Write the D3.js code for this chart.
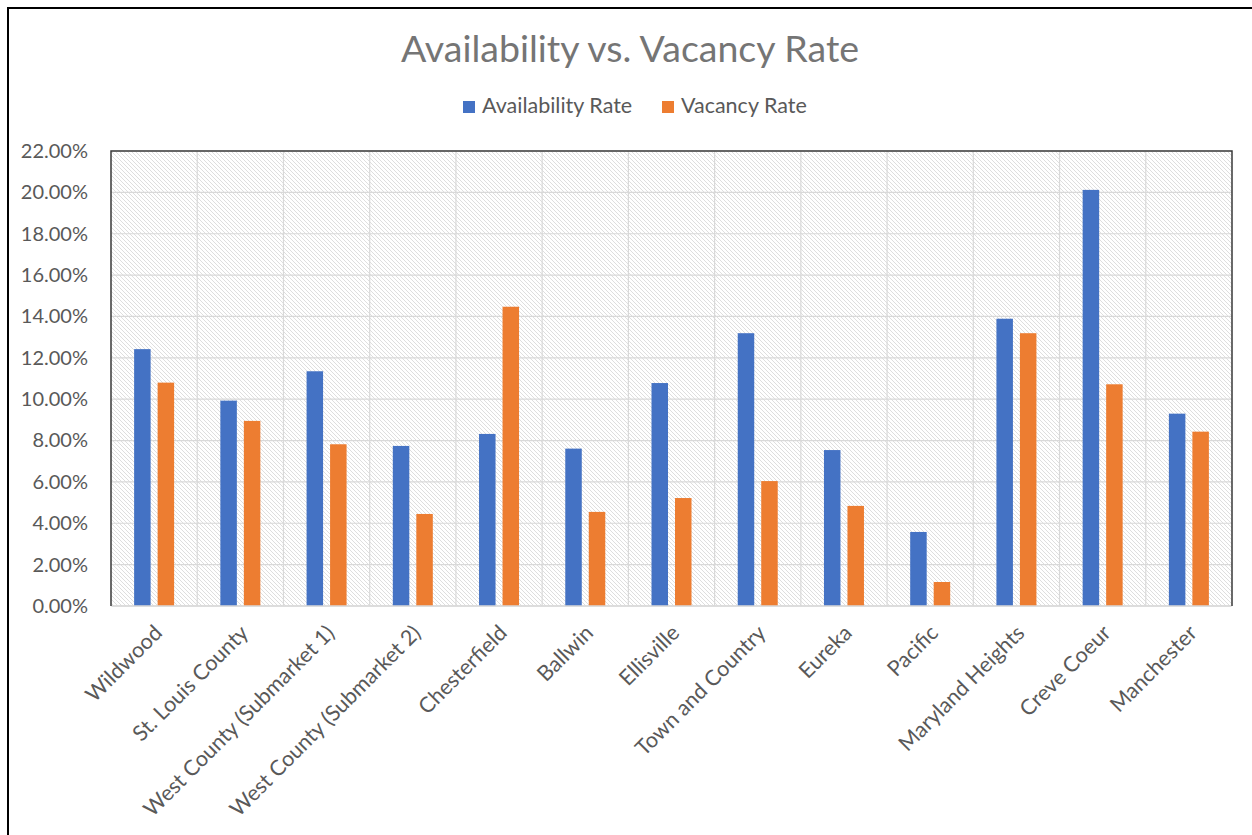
<!DOCTYPE html>
<html>
<head>
<meta charset="utf-8">
<script src="https://cdn.jsdelivr.net/npm/d3@7"></script>
<style>
  html, body { margin: 0; padding: 0; background: #fff; }
  svg { display: block; font-family: Lato, "Open Sans", sans-serif; }
</style>
</head>
<body>
<div id="chart"></div>
<script>
// Availability vs. vacancy, by submarket (percent).
const categories = [
  'Wildwood', 'St. Louis County', 'West County (Submarket 1)', 'West County (Submarket 2)',
  'Chesterfield', 'Ballwin', 'Ellisville', 'Town and Country', 'Eureka', 'Pacific',
  'Maryland Heights', 'Creve Coeur', 'Manchester'
];
const availability = [12.42, 9.93, 11.35, 7.74, 8.32, 7.61, 10.78, 13.19, 7.54, 3.58, 13.89, 20.12, 9.30];
const vacancy      = [10.80, 8.95, 7.82, 4.45, 14.47, 4.55, 5.22, 6.04, 4.84, 1.16, 13.19, 10.72, 8.43];
const seriesNames  = ['Availability Rate', 'Vacancy Rate'];
const yTicks       = [0, 2, 4, 6, 8, 10, 12, 14, 16, 18, 20, 22];

const W = 1252, H = 835;
const PLOT = { left: 111, top: 151, right: 1232, bottom: 606 };
const BLUE = '#4472C4', ORANGE = '#ED7D31';
const GRID = '#d9d9d9', INK = '#595959';

const svg = d3.select('#chart').append('svg').attr('width', W).attr('height', H);

// hatched plot background ("wide downward diagonal")
const defs = svg.append('defs');
const pat = defs.append('pattern').attr('id', 'hatch')
  .attr('patternUnits', 'userSpaceOnUse').attr('width', 4).attr('height', 4);
pat.append('rect').attr('width', 4).attr('height', 4).attr('fill', '#fff');
pat.append('path').attr('d', 'M-1,-1 L5,5 M-1,3 L1,5 M3,-1 L5,1')
  .attr('stroke', '#dadada').attr('stroke-width', 0.9);

// outer frame (the screenshot edge)
svg.append('path').attr('d', `M8,${H} L8,8 L${W},8`)
  .attr('fill', 'none').attr('stroke', '#000').attr('stroke-width', 2);

const x = d3.scaleBand().domain(categories).range([PLOT.left, PLOT.right]).padding(0);
const y = d3.scaleLinear().domain([0, 22]).range([PLOT.bottom, PLOT.top]);

const barW = 16.5, gap = 7;

svg.append('rect')
  .attr('x', PLOT.left).attr('y', PLOT.top)
  .attr('width', PLOT.right - PLOT.left).attr('height', PLOT.bottom - PLOT.top)
  .attr('fill', 'url(#hatch)');

// gridlines
const g = svg.append('g');
g.selectAll('line.h').data(yTicks).join('line').attr('class', 'h')
  .attr('x1', PLOT.left).attr('x2', PLOT.right)
  .attr('y1', (d) => y(d)).attr('y2', (d) => y(d))
  .attr('stroke', GRID).attr('stroke-width', 1.2);
g.selectAll('line.v').data(categories.slice(1)).join('line').attr('class', 'v')
  .attr('x1', (d) => x(d)).attr('x2', (d) => x(d))
  .attr('y1', PLOT.top).attr('y2', PLOT.bottom)
  .attr('stroke', GRID).attr('stroke-width', 1.2);

// bars
const bars = svg.append('g');
bars.selectAll('rect.a').data(categories).join('rect').attr('class', 'a')
  .attr('x', (d) => x(d) + x.bandwidth() / 2 - gap / 2 - barW)
  .attr('y', (d, i) => y(availability[i]))
  .attr('width', barW).attr('height', (d, i) => y(0) - y(availability[i]))
  .attr('fill', BLUE);
bars.selectAll('rect.v').data(categories).join('rect').attr('class', 'v')
  .attr('x', (d) => x(d) + x.bandwidth() / 2 + gap / 2)
  .attr('y', (d, i) => y(vacancy[i]))
  .attr('width', barW).attr('height', (d, i) => y(0) - y(vacancy[i]))
  .attr('fill', ORANGE);

// plot border: dark on three sides, light category axis on the bottom
svg.append('path')
  .attr('d', `M${PLOT.left},${PLOT.bottom} L${PLOT.left},${PLOT.top} L${PLOT.right},${PLOT.top} L${PLOT.right},${PLOT.bottom}`)
  .attr('fill', 'none').attr('stroke', '#3a3a3a').attr('stroke-width', 1.5);
svg.append('line')
  .attr('x1', PLOT.left + 1).attr('x2', PLOT.right - 1)
  .attr('y1', PLOT.bottom).attr('y2', PLOT.bottom)
  .attr('stroke', GRID).attr('stroke-width', 1.5);

// y axis labels
const yAxis = d3.axisLeft(y).tickValues(yTicks).tickSize(0).tickPadding(23)
  .tickFormat((d) => d.toFixed(2) + '%');
svg.append('g').attr('transform', `translate(${PLOT.left},0)`).call(yAxis)
  .call((s) => s.select('.domain').remove())
  .call((s) => s.selectAll('text').attr('fill', INK).attr('font-size', 20)
    .attr('font-family', 'Lato, sans-serif'));

// x axis labels, rotated
const xAxis = d3.axisBottom(x).tickSize(0).tickPadding(0);
svg.append('g').attr('transform', `translate(0,${PLOT.bottom})`).call(xAxis)
  .call((s) => s.select('.domain').remove())
  .call((s) => s.selectAll('text')
    .attr('fill', INK).attr('font-size', 21.5).attr('font-family', 'Lato, sans-serif')
    .attr('text-anchor', 'end').attr('dy', '0.35em').attr('y', 0)
    .attr('transform', 'translate(4,23) rotate(-45)'));

// title
svg.append('text').attr('x', 630).attr('y', 62).attr('text-anchor', 'middle')
  .attr('fill', '#757575').attr('font-size', 37.5).text('Availability vs. Vacancy Rate');

// legend
const legend = svg.append('g');
const legendX = [463, 662];
seriesNames.forEach((name, i) => {
  legend.append('rect').attr('x', legendX[i]).attr('y', 101).attr('width', 12).attr('height', 12)
    .attr('fill', i === 0 ? BLUE : ORANGE);
  legend.append('text').attr('x', legendX[i] + 19).attr('y', 113)
    .attr('fill', INK).attr('font-size', 21.5).text(name);
});
</script>
</body>
</html>
